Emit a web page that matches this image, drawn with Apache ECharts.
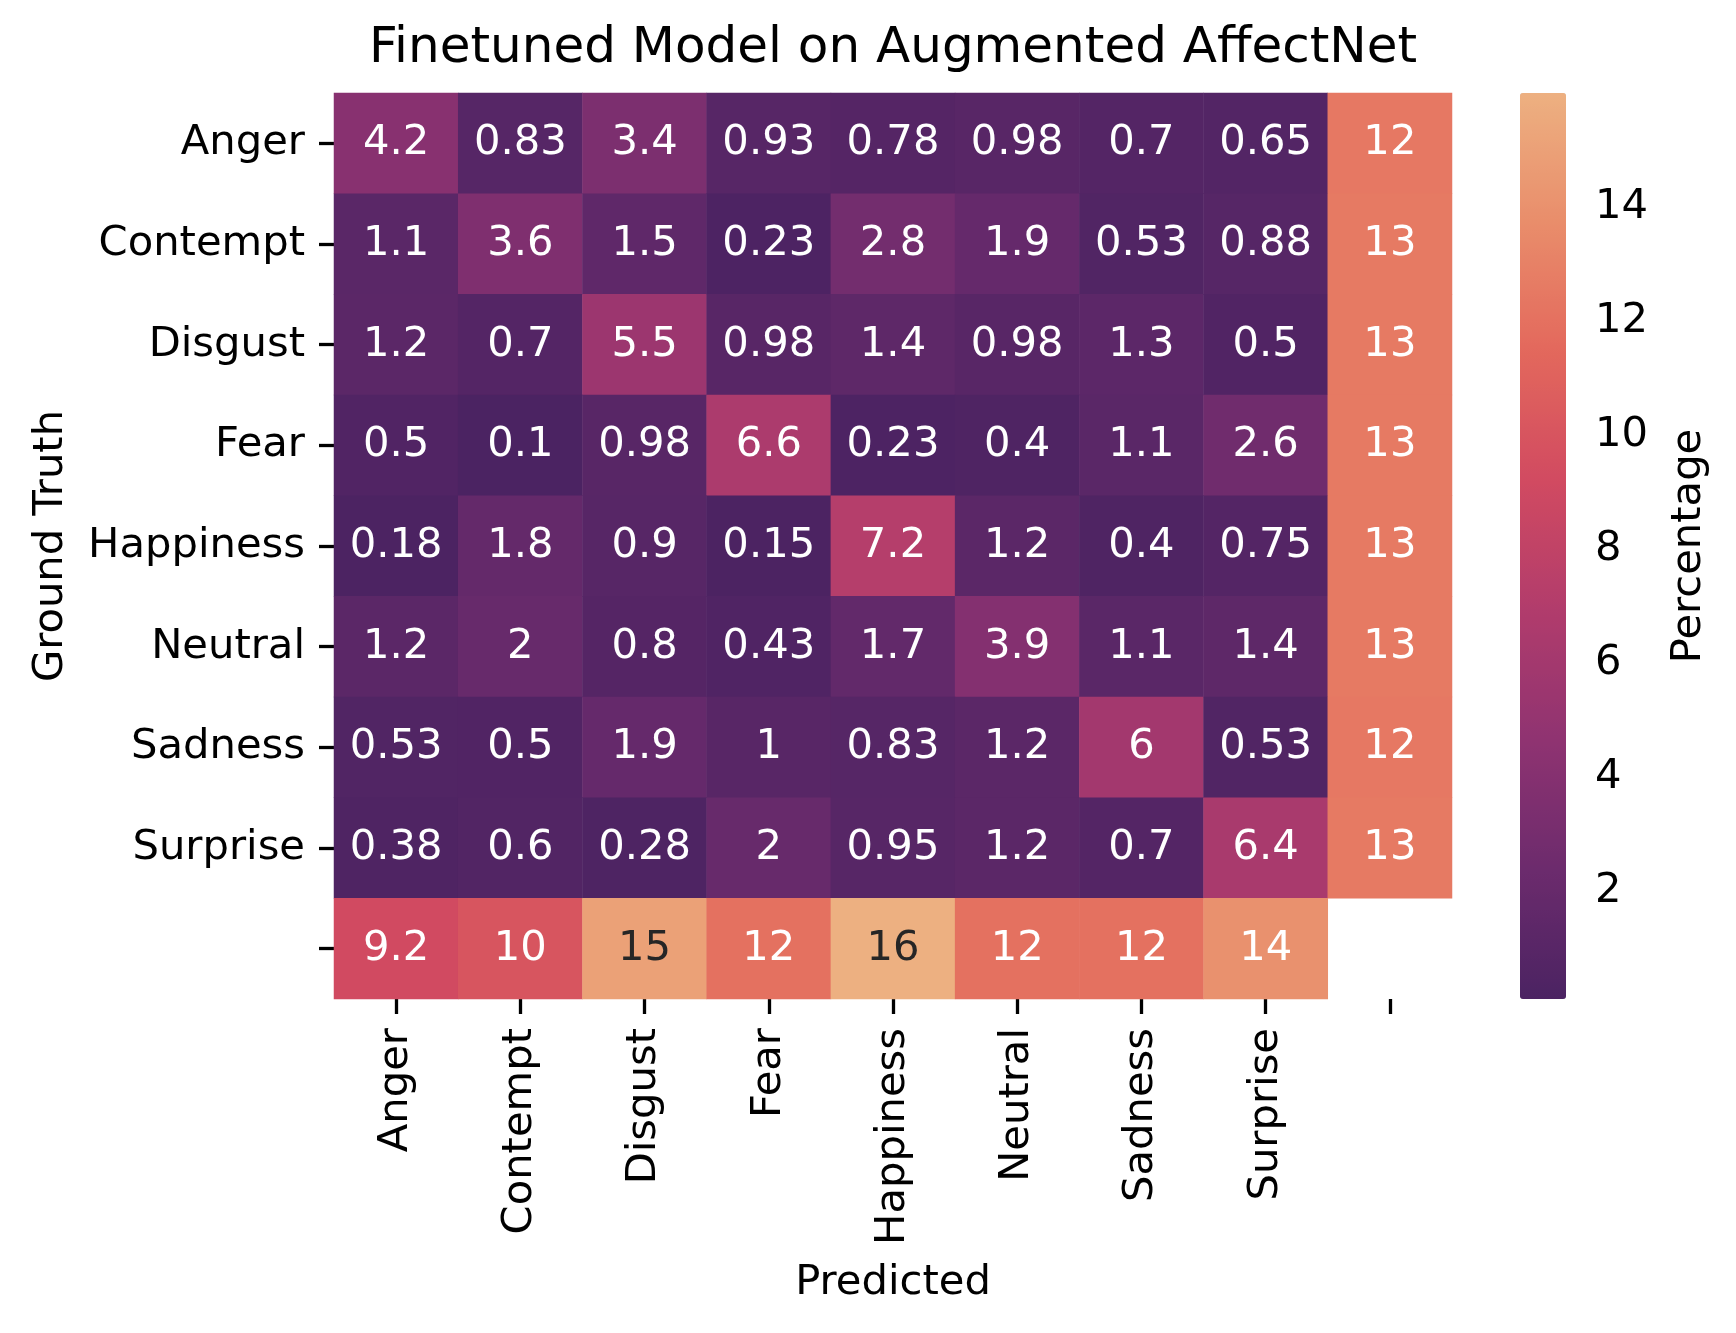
<!DOCTYPE html>
<html><head><meta charset="utf-8">
<script src="https://cdn.jsdelivr.net/npm/echarts@6/dist/echarts.min.js"></script>
<style>html,body{margin:0;padding:0;background:#fff}#c{width:1736px;height:1333px}</style>
</head><body><div id="c"></div>
<script>
// ---- data ----
const predictedLabels = ['Anger','Contempt','Disgust','Fear','Happiness','Neutral','Sadness','Surprise',''];
const truthLabels     = ['Anger','Contempt','Disgust','Fear','Happiness','Neutral','Sadness','Surprise',''];
const rowAnger     = [4.2, 0.83, 3.4, 0.93, 0.78, 0.98, 0.7, 0.65, 12.45];
const rowContempt  = [1.1, 3.6, 1.5, 0.23, 2.8, 1.9, 0.53, 0.88, 12.55];
const rowDisgust   = [1.2, 0.7, 5.5, 0.98, 1.4, 0.98, 1.3, 0.5, 12.55];
const rowFear      = [0.5, 0.1, 0.98, 6.6, 0.23, 0.4, 1.1, 2.6, 12.55];
const rowHappiness = [0.18, 1.8, 0.9, 0.15, 7.2, 1.2, 0.4, 0.75, 12.55];
const rowNeutral   = [1.2, 2, 0.8, 0.43, 1.7, 3.9, 1.1, 1.4, 12.55];
const rowSadness   = [0.53, 0.5, 1.9, 1, 0.83, 1.2, 6, 0.53, 12.45];
const rowSurprise  = [0.38, 0.6, 0.28, 2, 0.95, 1.2, 0.7, 6.4, 12.55];
const columnTotals = [9.2, 10, 15, 12, 16, 12, 12, 14];
const colorbarTicks = [2, 4, 6, 8, 10, 12, 14];
const valueMin = 0.1, valueMax = 16;

// ---- style ----
const FONT = 'DejaVu Sans';
const FS = 41.7;
const flareR = ['#4b2362','#6c2b6d','#8f3371','#b13c6c','#d14a61','#e3685c','#e98d6b','#edb081'];

function hexToRgb(h){return [parseInt(h.slice(1,3),16),parseInt(h.slice(3,5),16),parseInt(h.slice(5,7),16)];}
function cmap(v){
  let t=(v-valueMin)/(valueMax-valueMin); t=Math.max(0,Math.min(1,t));
  const n=flareR.length-1, p=t*n, i=Math.min(Math.floor(p),n-1), f=p-i;
  const a=hexToRgb(flareR[i]), b=hexToRgb(flareR[i+1]);
  return a.map((x,k)=>x+(b[k]-x)*f);
}
function lum(rgb){
  const c=rgb.map(x=>{x/=255;return x<=0.03928?x/12.92:Math.pow((x+0.055)/1.055,2.4);});
  return 0.2126*c[0]+0.7152*c[1]+0.0722*c[2];
}
function fmt(v){return String(Number(v.toPrecision(2)));}

const rows=[rowAnger,rowContempt,rowDisgust,rowFear,rowHappiness,rowNeutral,rowSadness,rowSurprise];
const data=[];
rows.forEach((r,ri)=>r.forEach((v,ci)=>data.push([ci,ri,v])));
columnTotals.forEach((v,ci)=>data.push([ci,8,v]));
const items=data.map(d=>({value:d,label:{color: lum(cmap(d[2]))>0.408?'#262626':'#ffffff'}}));

const chart=echarts.init(document.getElementById('c'),null,{renderer:'canvas'});
chart.setOption({
  backgroundColor:'#ffffff',
  animation:false,
  textStyle:{fontFamily:FONT},
  title:{text:'Finetuned Model on Augmented AffectNet',left:893,top:24,textAlign:'center',padding:0,
    textStyle:{fontFamily:FONT,fontSize:50,fontWeight:'normal',color:'#000'}},
  grid:[
    {left:334,top:93,width:1118,height:906,outerBoundsMode:'none'},
    {left:1520,top:93,width:46,height:906,outerBoundsMode:'none'}
  ],
  xAxis:[
    {type:'category',data:predictedLabels,gridIndex:0,position:'bottom',
     name:'Predicted',nameLocation:'middle',nameGap:263,
     nameTextStyle:{fontFamily:FONT,fontSize:FS,color:'#000'},
     axisLine:{show:false},
     axisTick:{show:true,alignWithLabel:true,length:15,lineStyle:{color:'#000',width:3.3}},
     axisLabel:{rotate:90,margin:29,fontFamily:FONT,fontSize:FS,color:'#000',interval:0},
     splitLine:{show:false}},
    {type:'value',gridIndex:1,min:0,max:1,show:false}
  ],
  yAxis:[
    {type:'category',data:truthLabels,gridIndex:0,inverse:true,
     name:'Ground Truth',nameLocation:'middle',nameGap:262,nameRotate:90,
     nameTextStyle:{fontFamily:FONT,fontSize:FS,color:'#000'},
     axisLine:{show:false},
     axisTick:{show:true,alignWithLabel:true,length:15,lineStyle:{color:'#000',width:3.3}},
     axisLabel:{margin:29,fontFamily:FONT,fontSize:FS,color:'#000',interval:0},
     splitLine:{show:false}},
    {type:'value',gridIndex:1,min:valueMin,max:valueMax,position:'right',
     name:'Percentage',nameLocation:'middle',nameGap:102,nameRotate:90,
     nameTextStyle:{fontFamily:FONT,fontSize:FS,color:'#000'},
     axisLine:{show:false},
     axisTick:{show:true,length:15,customValues:colorbarTicks,lineStyle:{color:'#000',width:3.3}},
     axisLabel:{margin:29,fontFamily:FONT,fontSize:FS,color:'#000',customValues:colorbarTicks},
     splitLine:{show:false}}
  ],
  visualMap:{type:'continuous',min:valueMin,max:valueMax,seriesIndex:0,dimension:2,
    calculable:false,left:1520,top:93,itemWidth:46,itemHeight:906,padding:0,
    inRange:{color:flareR},hoverLink:false},
  series:[
    {type:'heatmap',xAxisIndex:0,yAxisIndex:0,data:items,
     itemStyle:{borderWidth:0},
     label:{show:true,fontFamily:FONT,fontSize:FS,formatter:p=>fmt(p.value[2])},
     emphasis:{disabled:true}},
    {type:'line',xAxisIndex:1,yAxisIndex:1,data:[],silent:true}
  ]
});
</script></body></html>
